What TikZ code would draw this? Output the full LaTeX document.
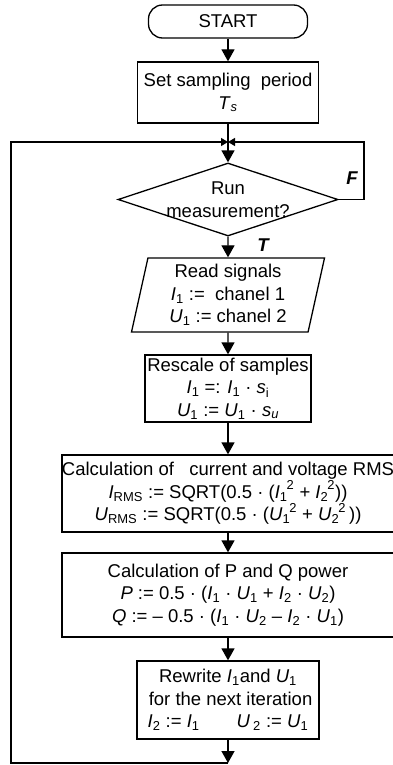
\documentclass[tikz,border=0pt]{standalone}
\usepackage{fontspec}
\setmainfont{Liberation Sans}
\usetikzlibrary{shapes.geometric,arrows.meta}
\newcommand\isub[2]{\textit{#1}\textsubscript{#2}}
\newcommand\isubsup[3]{\textit{#1}\textsubscript{#2}\kern-0.05em\raisebox{0.12em}{\textsuperscript{#3}}}
\begin{document}
\begin{tikzpicture}[x=1pt,y=-1pt,
  font=\fontsize{18.5}{22.5}\selectfont,
  line width=1.3pt,
  box/.style={draw, rectangle, align=center, inner sep=0pt},
  arr/.style={-{Triangle[length=12pt,width=13pt]}},
  jarr/.style={-{Triangle[length=7pt,width=8pt]}},
  lbl/.style={font=\fontsize{18.5}{22.5}\selectfont\bfseries\itshape}]
\useasboundingbox (0,0) rectangle (393,765);
\clip (0,0) rectangle (393,765);

\node[draw, rounded corners=14pt, minimum width=159pt, minimum height=33pt, inner sep=0pt] (start) at (228,21.5) {START};
\node[box, minimum width=181pt, minimum height=61pt] (set) at (228,92.5) {Set sampling\ \ period\\\textit{T}\textsubscript{\textit{s}}};
\coordinate (j) at (228,142);
\node[draw, diamond, minimum width=220pt, minimum height=73pt, inner sep=0pt] (dec) at (228,199.5) {};
\node[align=center, inner sep=0pt] (dect) at (dec.center) {Run\\measurement?};
\node[draw, trapezium, trapezium left angle=75, trapezium right angle=105, trapezium stretches body, minimum width=193pt, minimum height=74pt, align=center, inner sep=0pt] (read) at (228,295) {Read signals\\\isub{I}{1} :=\ \ chanel 1\\\isub{U}{1} := chanel 2};
\node[box, minimum width=166pt, minimum height=67pt] (resc) at (228,388.5) {Rescale of samples\\\isub{I}{1} =: \isub{I}{1} · \textit{s}\textsubscript{i}\\\isub{U}{1} := \isub{U}{1} · \textit{s}\textsubscript{\textit{u}}};
\node[box, minimum width=332pt, minimum height=77pt] (rms) at (228,493.5) {Calculation of\ \ \ current and voltage RMS\\\isub{I}{RMS} := SQRT(0.5 · (\isubsup{I}{1}{2} + \isubsup{I}{2}{2}))\\\isub{U}{RMS} := SQRT(0.5 · (\isubsup{U}{1}{2} + \isubsup{U}{2}{2}\,))};
\node[box, minimum width=332pt, minimum height=84pt] (pq) at (228,595) {Calculation of P and Q power\\\textit{P} := 0.5 · (\isub{I}{1} · \isub{U}{1} + \isub{I}{2} · \isub{U}{2})\\\textit{Q} := – 0.5 · (\isub{I}{1} · \isub{U}{2} – \isub{I}{2} · \isub{U}{1})};
\node[box, minimum width=182pt, minimum height=78pt] (rew) at (228,700) {Rewrite \isub{I}{1}and \isub{U}{1}\\\ for the next iteration\\\isub{I}{2} := \isub{I}{1}\hspace{2em}\textit{U}\,\textsubscript{2} := \isub{U}{1}};
\coordinate (b) at (228,763);
\coordinate (bl) at (11,763);
\coordinate (tl) at (11,142);
\coordinate (fr) at (364,142);

\draw[arr] (start) -- (set);
\draw (set) -- (j);
\draw[arr] (j) -- (dec.north);
\draw[arr] (dec.south) -- (read.north);
\draw[arr] (read.south) -- (resc);
\draw[arr] (resc) -- (rms);
\draw[arr] (rms) -- (pq);
\draw[arr] (pq) -- (rew);
\draw[arr] (rew) -- (b);
\draw[jarr] (b) -- (bl) -- (tl) -- (j);
\draw[jarr] (dec.east) -| (fr) -- (j);

\node[lbl] (F) at (352,178) {F};
\node[lbl] (T) at (263,245) {T};
\end{tikzpicture}
\end{document}
